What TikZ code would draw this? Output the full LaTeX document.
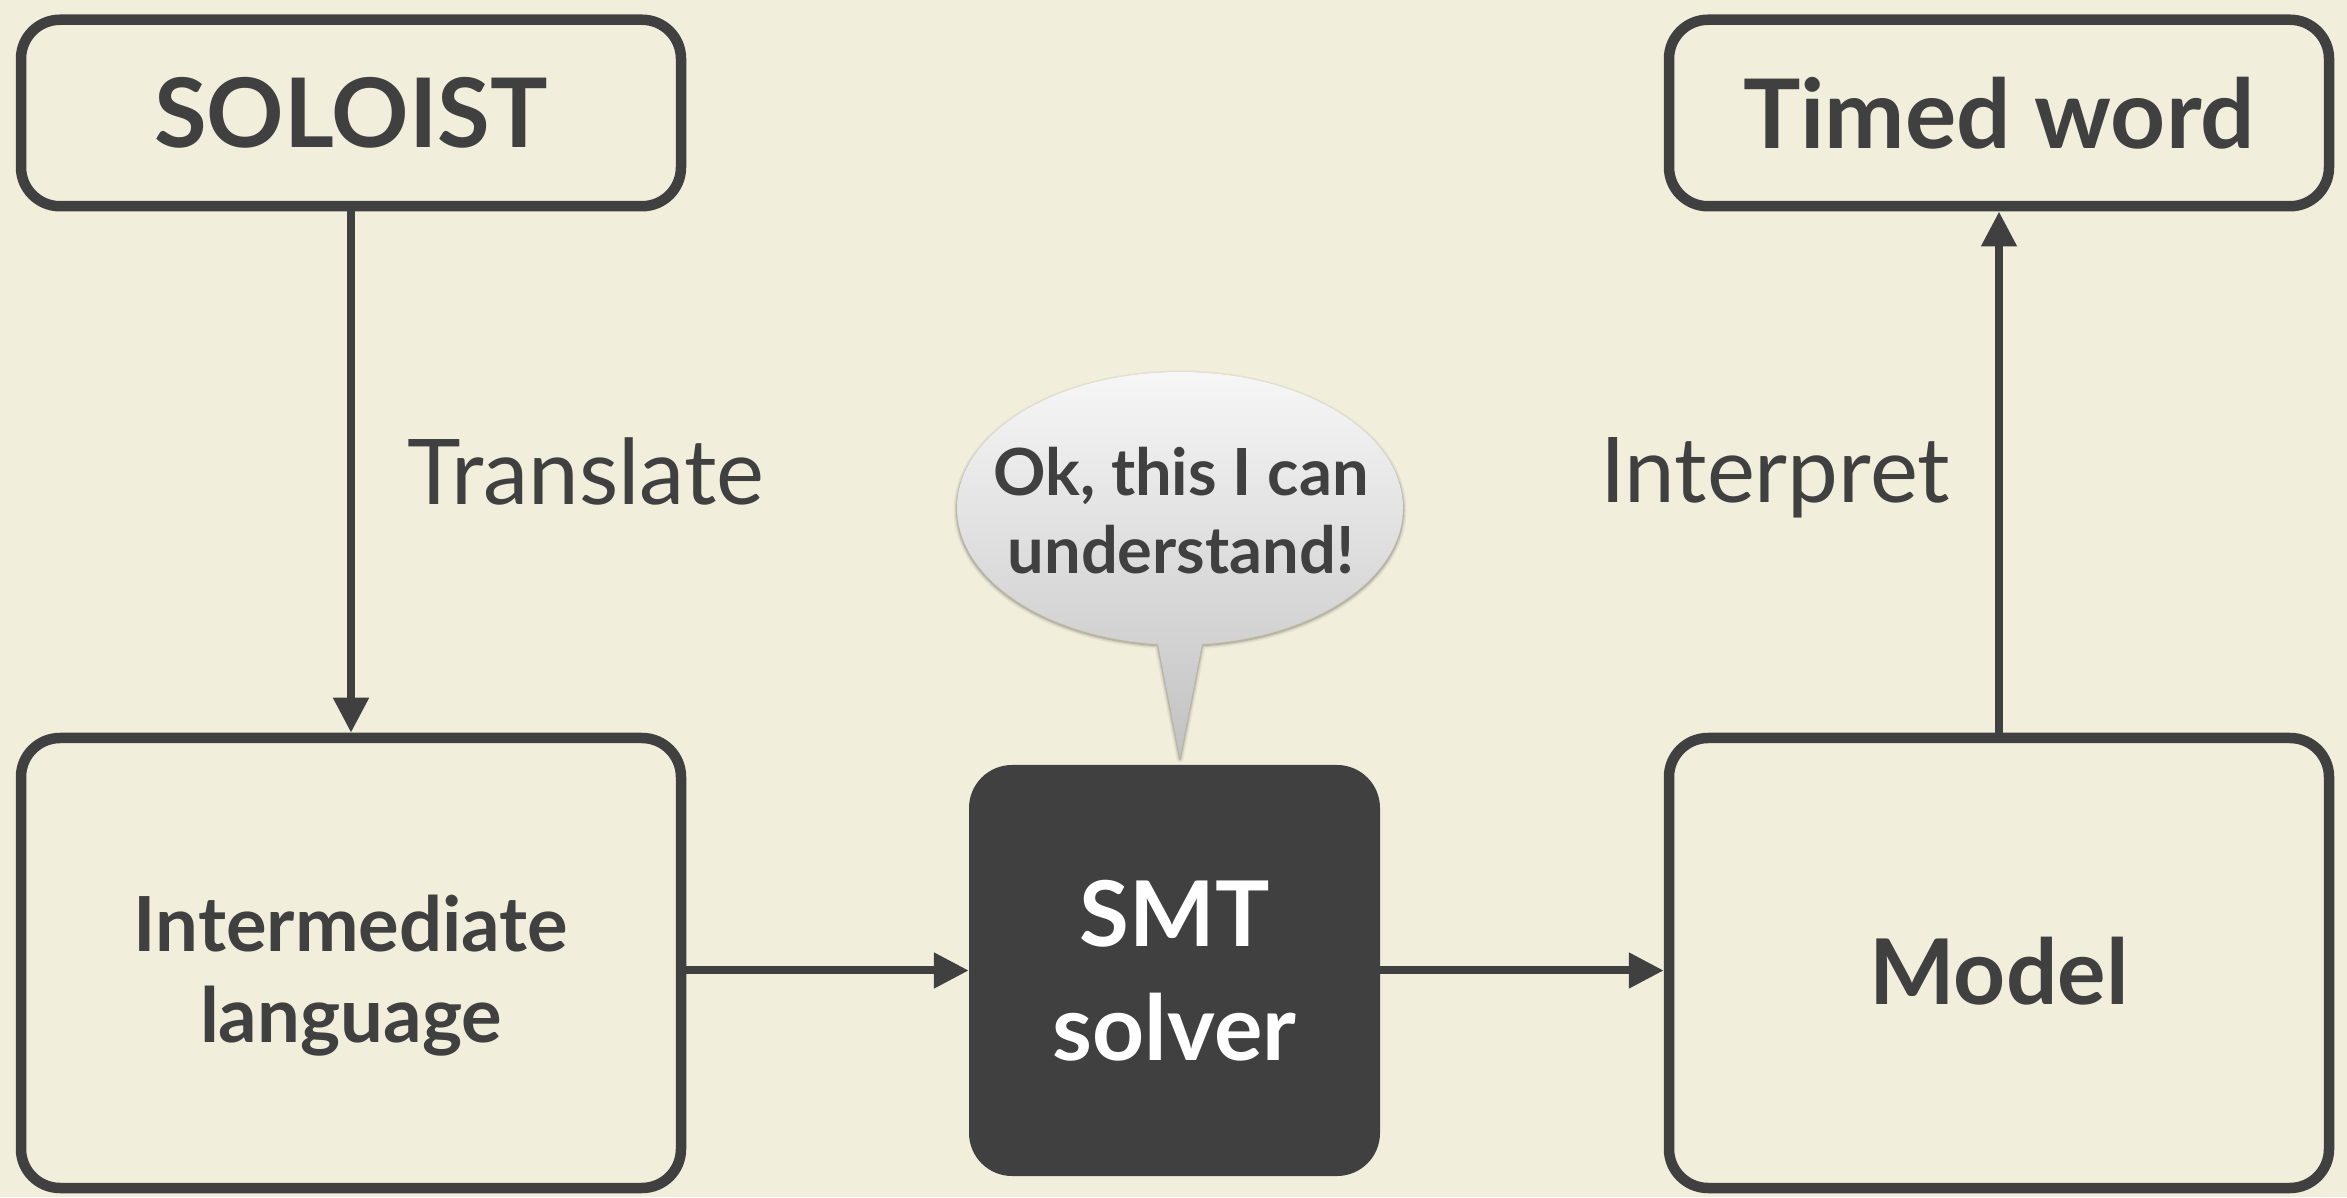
\documentclass[tikz,border=0pt]{standalone}
\usepackage{fontspec}
\setmainfont{Lato}
\usetikzlibrary{arrows.meta}
\definecolor{paper}{HTML}{F1EEDC}
\definecolor{ink}{HTML}{404040}
\tikzset{
  stagebox/.style={draw=ink, line width=10.5pt, rounded corners=39pt, fill=paper,
    text=ink, align=center, inner sep=0pt, minimum width=660pt,
    font=\bfseries\fontsize{90.7}{114}\selectfont},
  titlebox/.style={stagebox, minimum height=186.5pt,
    font=\bfseries\fontsize{96}{114}\selectfont},
  tallbox/.style={stagebox, minimum height=450pt},
  boxlabel/.style={text=ink, align=center, inner sep=0pt,
    font=\bfseries\fontsize{76}{91}\selectfont},
  solverbox/.style={fill=ink, rounded corners=43pt, text=white, align=center,
    inner sep=0pt, minimum width=411pt, minimum height=411pt,
    font=\bfseries\fontsize{90.7}{114}\selectfont},
  flow/.style={draw=ink, line width=8pt, -{Triangle[length=35pt,width=34pt]}},
  steplabel/.style={text=ink, anchor=base, inner sep=0pt,
    font=\fontsize{90.7}{100}\selectfont},
  quiptext/.style={text=ink, align=center, inner sep=0pt,
    font=\bfseries\fontsize{65}{78}\selectfont},
}
\begin{document}
\begin{tikzpicture}[x=1pt,y=1pt]
  \useasboundingbox (0,0) rectangle (2347,1197);
  \fill[paper] (0,0) rectangle (2347,1197);

  % pipeline stages
  \node[titlebox] (soloist) at (351,1084) {SOLOIST};
  \node[titlebox] (timed) at (1999,1084) {Timed word};
  \node[tallbox, label={[boxlabel, yshift=-13pt]center:{Intermediate\\language}}]
    (inter) at (351,234) {};
  \node[tallbox, text height=82pt, text depth=0pt] (model) at (1999,234) {Model};
  \node[solverbox] (smt) at (1174.5,226.5) {SMT\\solver};

  % connectors
  \draw[flow] (soloist) -- (inter);
  \draw[flow] (model) -- (timed);
  \draw[flow] (inter.east |- smt.west) -- (smt.west);
  \draw[flow] (smt.east) -- (smt.east -| model.west);

  \node[steplabel] (translate) at (586,692) {Translate};
  \node[steplabel] (interpret) at (1775,694) {Interpret};

  % speech bubble above the solver
  \coordinate (tailtip) at (1180,440);
  \foreach \w/\o in {7/0.05, 4/0.08, 2/0.12}
    \draw[line width=\w pt, draw=black, opacity=\o, line join=round]
      (1180,687) ++(-84.3:223 and 136) arc[start angle=-84.3, end angle=264.3,
      x radius=223, y radius=136] -- ([yshift=-2pt]tailtip) -- cycle;
  \shade[top color=white!97!black, bottom color=black!24]
    (1180,689) ++(-84.3:223 and 136) arc[start angle=-84.3, end angle=264.3,
    x radius=223, y radius=136] -- (tailtip) -- cycle;
  \node[quiptext] (quip) at (1181,686) {Ok, this I can\\understand!};
\end{tikzpicture}
\end{document}
